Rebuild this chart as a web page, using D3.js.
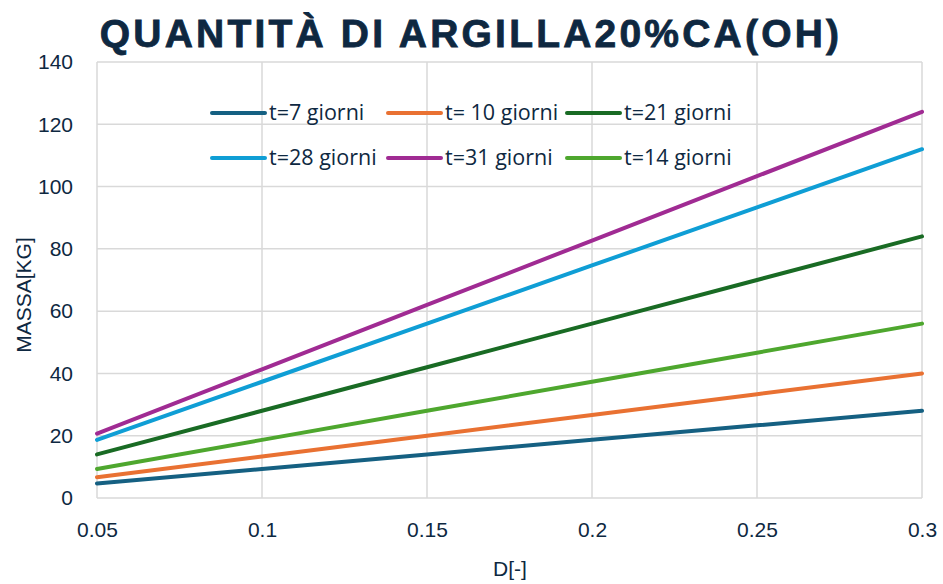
<!DOCTYPE html>
<html><head><meta charset="utf-8">
<script src="https://cdn.jsdelivr.net/npm/d3@7"></script>
<style>body{margin:0;background:#fff}svg{display:block}</style>
</head><body><svg id="c" width="943" height="584"></svg>
<script>
const D = [0.05, 0.1, 0.15, 0.2, 0.25, 0.3];
const t7  = [4.67, 9.33, 14, 18.67, 23.33, 28];
const t10 = [6.67, 13.33, 20, 26.67, 33.33, 40];
const t21 = [14, 28, 42, 56, 70, 84];
const t28 = [18.67, 37.33, 56, 74.67, 93.33, 112];
const t31 = [20.67, 41.33, 62, 82.67, 103.33, 124];
const t14 = [9.33, 18.67, 28, 37.33, 46.67, 56];
const seriesNames = ["t=7 giorni", "t= 10 giorni", "t=21 giorni", "t=28 giorni", "t=31 giorni", "t=14 giorni"];
const xTicks = [0.05, 0.1, 0.15, 0.2, 0.25, 0.3];
const yTicks = [0, 20, 40, 60, 80, 100, 120, 140];
const colors = ["#156082", "#E97132", "#196B24", "#0F9ED5", "#A02B93", "#4EA72E"];
const values = [t7, t10, t21, t28, t31, t14];

const svg = d3.select("#c");
const txt = "#0e2841";
const font = "'Open Sans', sans-serif";
const afont = "'Liberation Sans', Arial, sans-serif";
const x = d3.scaleLinear().domain([0.05, 0.3]).range([97, 922]);
const y = d3.scaleLinear().domain([0, 140]).range([498, 62]);

// grid
svg.append("g").selectAll("line").data(yTicks).join("line")
  .attr("x1", 97).attr("x2", 922).attr("y1", d => y(d)).attr("y2", d => y(d))
  .attr("stroke", "#d9d9d9").attr("stroke-width", 1.5);
svg.append("g").selectAll("line").data(xTicks).join("line")
  .attr("y1", 62).attr("y2", 498).attr("x1", d => x(d)).attr("x2", d => x(d))
  .attr("stroke", "#d9d9d9").attr("stroke-width", 1.5);

// axes
const xa = svg.append("g").attr("transform", "translate(0,498)")
  .call(d3.axisBottom(x).tickValues(xTicks).tickFormat(d => String(+d.toFixed(2))).tickSize(0).tickPadding(24));
const ya = svg.append("g").attr("transform", "translate(97,0)")
  .call(d3.axisLeft(y).tickValues(yTicks).tickSize(0).tickPadding(24));
[xa, ya].forEach(a => {
  a.select(".domain").remove();
  a.selectAll("text").attr("fill", txt).style("font-family", afont).style("font-size", "21px");
});

// lines
const line = d3.line().x((d, i) => x(D[i])).y(d => y(d));
values.forEach((v, k) => {
  svg.append("path").datum(v).attr("d", line).attr("fill", "none")
    .attr("stroke", colors[k]).attr("stroke-width", 4).attr("stroke-linecap", "round");
});

// title
svg.append("text").attr("x", 471).attr("y", 47).attr("text-anchor", "middle")
  .attr("fill", txt).style("font-family", afont)
  .style("font-weight", "bold").style("font-size", "39px").style("letter-spacing", "3.2px")
  .attr("stroke", txt).attr("stroke-width", 0.8)
  .text("QUANTITÀ DI ARGILLA20%CA(OH)");

// axis titles
svg.append("text").attr("x", 510).attr("y", 576).attr("text-anchor", "middle")
  .attr("fill", txt).style("font-family", afont).style("font-size", "21px").text("D[-]");
svg.append("text").attr("transform", "translate(31,295) rotate(-90)").attr("text-anchor", "middle")
  .attr("fill", txt).style("font-family", afont).style("font-size", "21px").text("MASSA[KG]");

// legend
const colX = [212, 388, 567];
const rowY = [113, 158];
seriesNames.forEach((n, k) => {
  const cx = colX[k % 3], cy = rowY[Math.floor(k / 3)];
  const g = svg.append("g");
  g.append("line").attr("x1", cx).attr("x2", cx + 53).attr("y1", cy).attr("y2", cy)
    .attr("stroke", colors[k]).attr("stroke-width", 4).attr("stroke-linecap", "round");
  g.append("text").attr("x", cx + 57).attr("y", cy + 7).attr("fill", txt)
    .style("font-family", font).style("font-size", "21.5px").text(n);
});
</script></body></html>
